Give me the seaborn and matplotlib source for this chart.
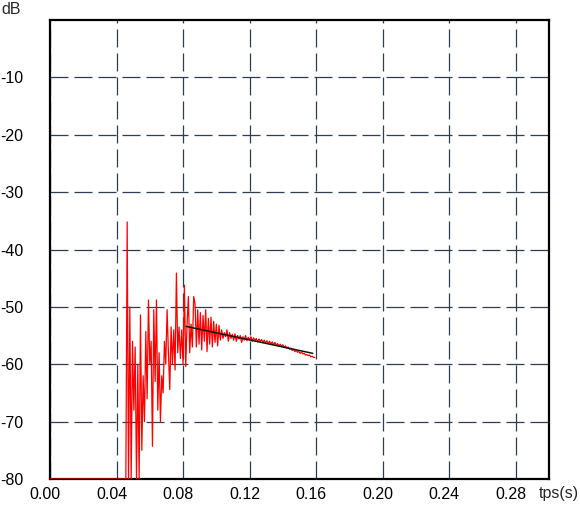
import numpy as np
import pandas as pd
import seaborn as sns
import matplotlib
matplotlib.use("Agg")
import matplotlib.pyplot as plt
from matplotlib.transforms import ScaledTranslation

# ---------------- data ----------------
lead_t = [0.0, 0.0452]
lead_db = [-80, -80]

t0 = 0.0456
dt = 0.0008
signal_db = [
    -80, -35.2, -80, -50, -80, -56, -68, -57, -80, -60,
    -80, -51.4, -75, -62, -70, -54.3, -66, -48.8, -60, -56,
    -74.3, -50.5, -63, -48.8, -68, -58, -70, -62, -65, -56,
    -60, -50.5, -58, -64.4, -53.5, -60, -54, -61, -44.1, -58,
    -53.5, -59, -54, -60, -46.2, -60.4, -53, -48.2, -58, -53,
    -57, -48.2, -49.5, -57, -50.5, -56.5, -51, -57.5, -51.5, -56,
    -50.5, -57.8, -52, -56.5, -51.8, -57, -52.5, -56.2, -53, -56.8,
    -53.2, -55.8, -54, -55.5, -54.5, -55.2, -54, -56, -54.5, -55.5,
    -54.8, -55.8, -54.7, -56, -55, -55.6, -55, -56.2, -55.2, -55.8,
    -55.0, -55.9, -55.3, -55.8, -55.2, -56.0, -55.4, -55.9, -55.5, -56.1,
    -55.6, -56.0, -55.7, -56.2, -55.8, -56.3, -55.9, -56.4, -56.0, -56.5,
    -56.1, -56.6, -56.2, -56.7, -56.4, -56.8, -56.5, -56.9, -56.6, -57.1,
    -56.8, -57.2, -57.0, -57.4, -57.2, -57.6, -57.4, -57.8, -57.6, -57.9,
    -57.8, -58.1, -57.9, -58.2, -58.1, -58.4, -58.3, -58.5, -58.4, -58.7,
    -58.6, -58.8, -58.8,
]

fit_t = [0.0818, 0.158]
fit_db = [-53.4, -58.1]

x_ticks = [0.00, 0.04, 0.08, 0.12, 0.16, 0.20, 0.24, 0.28]
x_labels = ["0.00", "0.04", "0.08", "0.12", "0.16", "0.20", "0.24", "0.28"]
y_ticks = [-80, -70, -60, -50, -40, -30, -20, -10]
y_labels = ["-80", "-70", "-60", "-50", "-40", "-30", "-20", "-10"]
marker_tick = [0.16]

# ---------------- plot ----------------
sns.set_style("white")
plt.rcParams['font.family'] = ['Liberation Sans', 'DejaVu Sans']

fig = plt.figure(figsize=(5.8, 5.07), dpi=100)
ax = fig.add_axes([50 / 580, 28 / 507, 499 / 580, 459 / 507])

sig_t = t0 + dt * np.arange(len(signal_db))
df = pd.DataFrame({
    "t": np.concatenate([lead_t, sig_t]),
    "db": np.concatenate([lead_db, signal_db]),
})
fit_df = pd.DataFrame({"t": fit_t, "db": fit_db})

sns.lineplot(data=df, x="t", y="db", ax=ax, color="#ff0000", linewidth=0.9,
             estimator=None, sort=False, zorder=3)
sns.lineplot(data=fit_df, x="t", y="db", ax=ax, color="#0a1a0a", linewidth=1.1,
             estimator=None, sort=False, zorder=4)

ax.set_xlim(0, 0.30)
ax.set_ylim(-80, 0)
ax.set_xticks(x_ticks)
ax.set_xticklabels(x_labels)
ax.set_yticks(y_ticks)
ax.set_yticklabels(y_labels)
ax.set_xticks(marker_tick, minor=True)
ax.set_xlabel("")
ax.set_ylabel("")

ax.grid(True, which="major", color="#2c3e50", linewidth=0.9,
        linestyle=(0, (14.4, 4.8)))
ax.tick_params(axis="both", which="major", length=0, labelsize=11.5,
               labelcolor="black")
ax.tick_params(axis="x", which="major", pad=6)
ax.tick_params(axis="y", which="major", pad=19)
ax.tick_params(axis="x", which="minor", length=3.6, width=0.9,
               direction="out", color="#2c3e50")

for lab in ax.get_yticklabels():
    lab.set_horizontalalignment("right")
for lab in ax.get_xticklabels():
    lab.set_transform(lab.get_transform() +
                      ScaledTranslation(-5 / 100, 0, fig.dpi_scale_trans))

for s in ax.spines.values():
    s.set_visible(True)
    s.set_color("black")
    s.set_linewidth(1.6)

fig.text(1 / 580, 1 - 2 / 507, "dB", ha="left", va="top", fontsize=11.5)
fig.text(539 / 580, 1 - 486 / 507, "tps(s)", ha="left", va="top", fontsize=11.5)

fig.savefig("out.png", dpi=100, facecolor="white")
